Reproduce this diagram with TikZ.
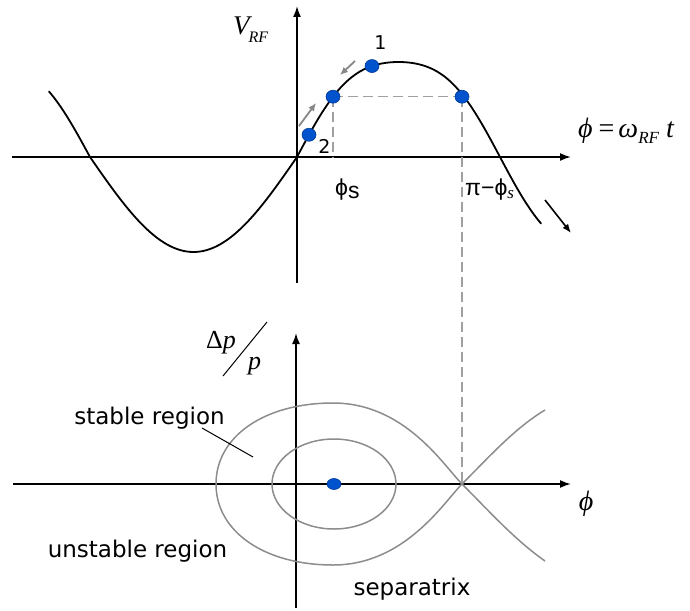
\documentclass[tikz,border=0pt]{standalone}
\usepackage{fontspec}
\setmainfont{DejaVu Sans}
\newfontfamily\tms{Liberation Serif}
\newfontfamily\ars{Liberation Sans}
\usetikzlibrary{arrows.meta,shapes.geometric}
\definecolor{contour}{RGB}{140,140,140}
\definecolor{dashgray}{RGB}{160,160,160}
\definecolor{arrgray}{RGB}{135,135,135}
\definecolor{dotblue}{RGB}{0,82,205}
\definecolor{dotedge}{RGB}{0,55,150}
\begin{document}
\begin{tikzpicture}[x=1pt,y=-1pt,
  declare function={
    fp(\x)=157-95*(sin((\x-297)/203*180)+0.065*sin(3*(\x-297)/203*180))/0.935;
    fl(\x)=157-95*(sin((\x-297)/207*180)+0.065*sin(3*(\x-297)/207*180))/0.935;
    fn(\x)=157-95*sin((\x-297)/207*180);},
  axisline/.style={line width=1.7pt,-{Latex[length=11pt,width=8pt]}},
  curve/.style={line width=1.8pt,black},
  sepline/.style={line width=1.5pt,contour},
  dashline/.style={line width=1.5pt,dashgray,dash pattern=on 10pt off 5pt},
  grayarrow/.style={line width=1.8pt,arrgray,-{Latex[length=8pt,width=7pt]}},
  blackarrow/.style={line width=1.6pt,black,-{Latex[length=9pt,width=7pt]}},
  bdot/.style={ellipse,fill=dotblue,draw=dotedge,line width=0.6pt,minimum width=14pt,minimum height=13pt,inner sep=0pt},
  lbl/.style={inner sep=0pt,font=\fontsize{23}{23}\selectfont},
  numlbl/.style={inner sep=0pt,font=\fontsize{19}{19}\selectfont}
]
\useasboundingbox (0,0) rectangle (690,610);
% ---------- top panel ----------
\coordinate (tx0) at (12,157);
\coordinate (tx1) at (571,157);
\coordinate (ty0) at (297,283);
\coordinate (ty1) at (297,6);
\coordinate (O1) at (297,157);
\draw[axisline] (tx0) -- (tx1);
\draw[axisline] (ty0) -- (ty1);
% sine-like curve
\draw[curve,line cap=round,line join=round] plot[domain=49:90,samples=20] (\x,{fl(\x)})
  -- plot[domain=90:297,samples=80] (\x,{fn(\x)})
  -- plot[domain=297:541,samples=90] (\x,{fp(\x)});
% bottom panel coordinates
\coordinate (bx0) at (13,484);
\coordinate (bx1) at (571,484);
\coordinate (by0) at (296,608);
\coordinate (by1) at (296,333);
\coordinate (X) at (462,484);
\coordinate (L) at (216,484);
\coordinate (T) at (333,403);
\coordinate (B) at (333,565);
\coordinate (ru) at (545,410);
\coordinate (rd) at (545,561);
\coordinate (C) at (334,484);
% dots positions
\coordinate (d2c) at (309,{fp(309)});
\coordinate (psc) at (333,{fp(333)});
\coordinate (d1c) at (372,{fp(372)});
\coordinate (pmsc) at (462,{fp(333)});
% dashed lines (under dots)
\draw[dashline] (psc) -- (psc |- O1);
\draw[dashline] (psc) -- (pmsc);
\draw[dashline] (pmsc) -- (X);
% dots
\node[bdot] (d2) at (d2c) {};
\node[bdot] (ps) at (psc) {};
\node[bdot] (d1) at (d1c) {};
\node[bdot] (pms) at (pmsc) {};
% gray motion arrows
\coordinate (ga1s) at (299,126);
\coordinate (ga1e) at (316,103);
\coordinate (ga2s) at (355,61);
\coordinate (ga2e) at (340,75);
\draw[grayarrow] (ga1s) -- (ga1e);
\draw[grayarrow] (ga2s) -- (ga2e);
% black arrow
\coordinate (ba1) at (545,200);
\coordinate (ba2) at (571,233);
\draw[blackarrow] (ba1) -- (ba2);
% labels top
\node[anchor=base west,inner sep=0pt] (vrf) at (233,35)
  {\fontsize{27}{27}\tms\itshape V\kern-1pt\raisebox{-7pt}{\fontsize{16}{16}\selectfont RF}};
\node[numlbl,anchor=base] (n1) at (380.5,50) {1};
\node[numlbl,anchor=base] (n2) at (324.5,153) {2};
\node[lbl,anchor=base west] (lphis) at (335,195) {\ars ϕ\raisebox{-3pt}{s}};
\node[lbl,anchor=base west] (lpmphis) at (465,195)
  {\ars π−ϕ\raisebox{-3pt}{\fontsize{17}{17}\tms\itshape s}};
\node[anchor=base west,inner sep=0pt] (formula) at (578,137)
  {\fontsize{28}{28}\tms\itshape ϕ\kern6pt{\upshape =}\kern4pt ω\raisebox{-6pt}{\fontsize{17}{17}\selectfont RF}\kern7pt t};
% ---------- bottom panel ----------
\draw[axisline] (bx0) -- (bx1);
\draw[axisline] (by0) -- (by1);
\draw[sepline] (C) ellipse[x radius=62,y radius=45];
\draw[sepline] (X) .. controls (444,466) and (405,403) .. (T)
  .. controls (265,403) and (216,436) .. (L)
  .. controls (216,532) and (265,565) .. (B)
  .. controls (405,565) and (444,502) .. (X);
\draw[sepline] (X) .. controls (490,456) and (515,428) .. (ru);
\draw[sepline] (X) .. controls (490,512) and (515,540) .. (rd);
\node[bdot,minimum width=14pt,minimum height=11pt] (sd) at (C) {};
% labels bottom
\node[anchor=base west,inner sep=0pt] (dp) at (206,348)
  {\fontsize{26}{26}\tms Δ{\itshape p}};
\node[anchor=base west,inner sep=0pt] (pp) at (248,369)
  {\fontsize{26}{26}\tms\itshape p};
\coordinate (sl0) at (223,376);
\coordinate (sl1) at (267,322);
\draw[line width=1pt] (sl0) -- (sl1);
\node[anchor=base,inner sep=0pt] (phb) at (586,510)
  {\fontsize{28}{28}\tms\itshape ϕ};
\node[lbl,anchor=base] (stab) at (149.5,424) {stable region};
\node[lbl,anchor=base] (unstab) at (137.5,557) {unstable region};
\node[lbl,anchor=base] (sepx) at (412,595) {separatrix};
\coordinate (ld0) at (202,428);
\coordinate (ld1) at (253,457);
\draw[line width=1pt] (ld0) -- (ld1);
\end{tikzpicture}
\end{document}
